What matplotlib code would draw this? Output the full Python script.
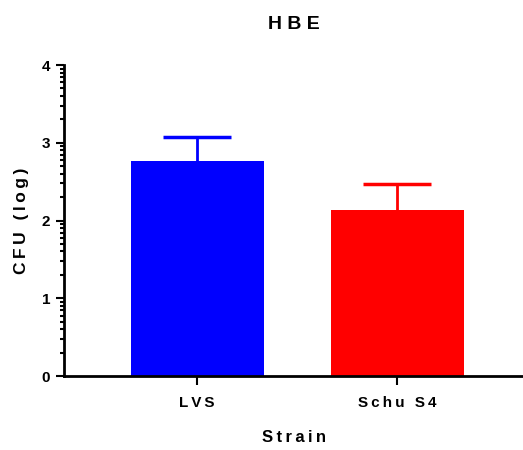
import numpy as np
import matplotlib
matplotlib.use('Agg')
import matplotlib.pyplot as plt
from matplotlib.ticker import FixedLocator

FONT = ['Liberation Sans', 'DejaVu Sans']
plt.rcParams['font.family'] = FONT
plt.rcParams['font.weight'] = 'bold'

strains = ['LVS', 'Schu S4']
cfu_mean = [2.76, 2.13]
cfu_err = [0.31, 0.34]
bar_colors = ['#0000ff', '#ff0000']


def spaced(s, gap='\u2009'):
    # widen letter spacing the way the plotting software does
    return gap.join(list(s))


fig = plt.figure(figsize=(5.23, 4.5), dpi=100)
ax = fig.add_axes([0.1224, 0.1644, 0.8776, 0.6911])

x = np.arange(len(strains))
ax.bar(x, cfu_mean, width=0.665, color=bar_colors, zorder=2)
# upper error bars only
cap_half = 0.17
for xi, m, e, c in zip(x, cfu_mean, cfu_err, bar_colors):
    ax.vlines(xi, m, m + e, color=c, lw=2, zorder=3)
    ax.hlines(m + e, xi - cap_half, xi + cap_half, color=c, lw=2.5, zorder=3)

ax.set_xlim(-0.665, 1.63)
ax.set_ylim(0, 4)

for side in ['top', 'right']:
    ax.spines[side].set_visible(False)
for side in ['left', 'bottom']:
    ax.spines[side].set_linewidth(2)

ax.set_yticks([0, 1, 2, 3, 4])
minor = [n + np.log10(k) for n in range(4) for k in range(2, 10)]
ax.yaxis.set_minor_locator(FixedLocator(minor))
ax.tick_params(axis='y', which='major', length=6, width=1.5, pad=4, labelsize=11)
ax.tick_params(axis='y', which='minor', length=3, width=1.5)
ax.tick_params(axis='x', which='major', length=6.5, width=1.5, pad=8, labelsize=11)

ax.set_xticks(x)
ax.set_xticklabels([spaced(s) for s in strains])

ax.set_xlabel(spaced('Strain'), fontsize=12, fontweight='bold', labelpad=14)
ax.set_ylabel(spaced('CFU (log)'), fontsize=12.5, fontweight='bold', labelpad=9)
fig.suptitle('H B E', x=0.561, y=0.965, fontsize=14, fontweight='bold')

fig.savefig('out.png', dpi=100)
